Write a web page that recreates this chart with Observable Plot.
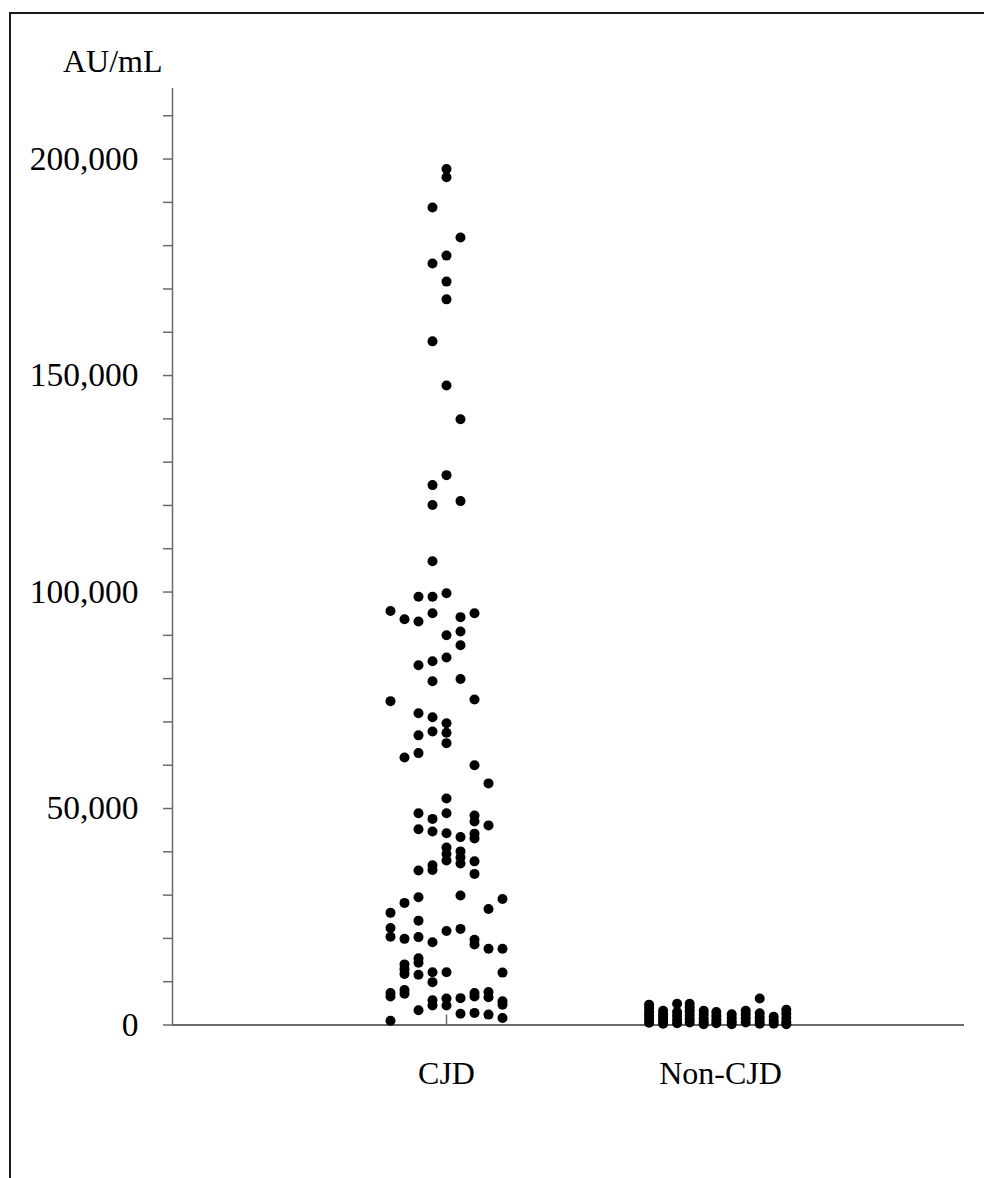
<!DOCTYPE html>
<html>
<head>
<meta charset="utf-8">
<script src="https://cdn.jsdelivr.net/npm/d3@7"></script>
<script src="https://cdn.jsdelivr.net/npm/@observablehq/plot@0.6"></script>
<style>
  html, body { margin: 0; padding: 0; background: #fff; overflow: hidden; }
  #wrap { position: relative; width: 984px; height: 1178px; overflow: hidden; }
  #frame { position: absolute; left: 9px; top: 12px; width: 1100px; height: 1300px;
           border-top: 2px solid #1a1a1a; border-left: 2px solid #1a1a1a; }
  #unit { position: absolute; left: 63px; top: 45px; font-family: "Liberation Serif", serif;
          font-size: 32px; line-height: 32px; color: #000; white-space: nowrap; }
  #chart { position: absolute; left: 0; top: 0; }
</style>
</head>
<body>
<div id="wrap">
  <div id="frame"></div>
  <div id="chart"></div>
  <div id="unit">AU/mL</div>
</div>
<script>
// ---- data ----
const categories = ["CJD", "Non-CJD"];
const categoryPos = [1, 2];

// CJD: jitter column (slot) and value (AU/mL)
const cjdSlots = [
  0, 0, -1, 1, 0, -1, 0, 0, -1, 0, 1,
  0, -1, 1, -1, -1,
  0, -2, -1, -4, -3, -2, -1, 1, 2, 0, 1, 1,
  -2, -1, 0, -1, 1, -4, 2, -2, -1, 0, -2, -1, 0, 0,
  -3, -2, 2, 3, 0,
  -2, 0, -1, 2, 2, 3, -2, -1, 0, 1, 2, 2,
  0, 0, 0, 1, 1, 1, -1, -1, -2, 2, 2,
  -2, -3, 1, 4, 3, -4, -2, -4, -4, -3, -2, -1, 0, 1, 2, 2, 3, 4,
  -2, -2, -3, -3, -3, -2, -1, 0, 4, -1,
  -3, -3, -4, -4, -1, -1, 0, 0, 1, 2, 2, 3, 3, 4, 4,
  -2, 1, 2, 3, 4, -4
];
const cjdValues = [
  197700, 195800, 188800, 181900, 177700, 175900, 171700, 167600, 157900, 147700, 139900,
  127000, 124700, 121000, 120100, 107100,
  99700, 98900, 98900, 95600, 93700, 93200, 95100, 94200, 95100, 90000, 90900, 87700,
  83100, 84000, 84900, 79400, 79900, 74800, 75200, 72000, 71100, 69700, 66900, 67800, 67500, 65100,
  61800, 62800, 60000, 55800, 52300,
  48900, 48900, 47600, 48400, 47000, 46100, 45200, 44700, 44300, 43400, 44200, 43100,
  41000, 39500, 38000, 40100, 38700, 37300, 36900, 35800, 35700, 37800, 34900,
  29500, 28200, 29900, 29100, 26800, 25900, 24100, 22400, 20400, 19900, 20300, 19100, 21700, 22200, 19700, 18600, 17600, 17600,
  15400, 14400, 14000, 12900, 11800, 11600, 12200, 12200, 12100, 9900,
  8100, 7200, 7400, 6600, 5700, 4500, 6100, 4500, 6200, 7400, 6600, 7600, 6400, 5500, 4700,
  3400, 2600, 2800, 2400, 1600, 1000
];

// Non-CJD: jitter column (slot) and the values stacked in each column
const nonCjdSlots = [-5.1, -4.1, -3.1, -2.2, -1.2, -0.3, 0.8, 1.8, 2.8, 3.8, 4.7];
const nonCjdColumns = [
  [4700, 3900, 3000, 2200, 1300, 500],
  [3300, 2500, 1700, 900, 300],
  [4900, 3000, 2100, 1200, 400],
  [4900, 4100, 3200, 2300, 1400, 600],
  [3300, 2400, 1500, 700, 200],
  [3000, 2100, 1200, 400],
  [2500, 1600, 800, 200],
  [3300, 2400, 1500, 600],
  [6100, 2700, 1800, 900, 300],
  [1900, 1000, 300],
  [3500, 2600, 1600, 700, 200]
];

// axis ticks
const majorTicks = [0, 50000, 100000, 150000, 200000];
const minorTicks = [0, 10000, 20000, 30000, 40000, 50000, 60000, 70000, 80000, 90000, 100000,
  110000, 120000, 130000, 140000, 150000, 160000, 170000, 180000, 190000, 200000, 210000];
const yMax = 216300;
const xMax = 2.8905;
const slotWidth = 0.0511;

// ---- build table ----
const dots = [
  ...cjdValues.map((v, i) => ({group: categories[0], x: categoryPos[0] + cjdSlots[i] * slotWidth, value: v})),
  ...nonCjdColumns.flatMap((col, j) => col.map(v => ({group: categories[1], x: categoryPos[1] + nonCjdSlots[j] * slotWidth, value: v})))
];

const fmt = d3.format(",");
const axisColor = "#6a6a6a";

const chart = Plot.plot({
  width: 984,
  height: 1178,
  marginLeft: 172,
  marginRight: 20,
  marginTop: 88,
  marginBottom: 153.5,
  style: {fontFamily: "'Liberation Serif', 'Times New Roman', serif", fontSize: "32px", color: "#000", background: "transparent"},
  x: {type: "linear", domain: [0, xMax], axis: null},
  y: {type: "linear", domain: [0, yMax], axis: null},
  marks: [
    Plot.ruleX([0], {stroke: axisColor, strokeWidth: 1.5}),
    Plot.ruleY([0], {stroke: axisColor, strokeWidth: 2}),
    Plot.axisY({ticks: minorTicks, tickSize: 9, tickPadding: 25, stroke: axisColor, strokeWidth: 1.5, fill: "#000",
      fontSize: 33.5, tickFormat: d => majorTicks.includes(d) ? fmt(d) : "", label: null}),
    Plot.axisX({ticks: categoryPos, tickSize: -10, stroke: axisColor, strokeWidth: 1.5, tickFormat: () => "", label: null}),
    Plot.axisX({ticks: categoryPos, tickSize: 0, tickPadding: 36, fill: "#000",
      tickFormat: d => categories[categoryPos.indexOf(d)], label: null}),
    Plot.dot(dots, {x: "x", y: "value", r: 5, fill: "#000", stroke: null})
  ]
});
document.getElementById("chart").appendChild(chart);
</script>
</body>
</html>
